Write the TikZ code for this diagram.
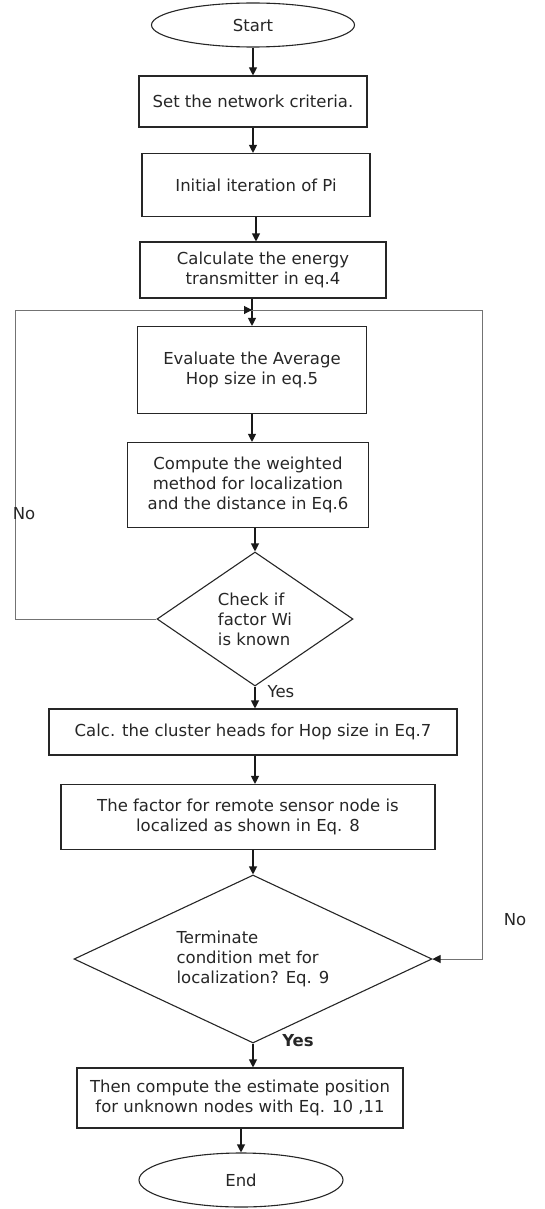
\documentclass[tikz,border=0pt]{standalone}
\usepackage{fontspec}
\setmainfont{DejaVu Sans}
\usetikzlibrary{shapes.geometric,arrows.meta,calc}
\begin{document}
\begin{tikzpicture}[x=1pt,y=-1pt,
  every node/.style={font=\fontsize{16.5}{20}\selectfont, text=black!85},
  proc/.style={draw=black!85, line width=1.1pt, rectangle, align=center, inner sep=2pt},
  term/.style={draw=black!85, line width=1.1pt, ellipse, inner sep=0pt},
  dec/.style={draw=black!85, line width=1.1pt, diamond, inner sep=0pt, align=left},
  arr/.style={draw=black!90, line width=1.1pt, -{Triangle[length=8pt,width=8pt]}},
  loopline/.style={draw=black!55, line width=0.9pt},
  lbl/.style={inner sep=0pt}]
\useasboundingbox (0,0) rectangle (545,1209);
\node[term, minimum width=203pt, minimum height=44pt] (start) at (253,25) {Start};
\node[proc, minimum width=228pt, minimum height=51pt] (set) at (253,101.5) {Set the network criteria.};
\node[proc, minimum width=228pt, minimum height=63pt] (init) at (256,185) {Initial iteration of Pi};
\node[proc, minimum width=246pt, minimum height=56pt] (calc) at (263,270) {Calculate the energy\\ transmitter in eq.4};
\node[proc, minimum width=229pt, minimum height=87pt] (eval) at (252,370) {Evaluate the Average\\ Hop size in eq.5};
\node[proc, minimum width=241pt, minimum height=85pt] (comp) at (248,485) {Compute the weighted\\ method for localization\\ and the distance in Eq.6};
\node[dec, aspect=1.46, minimum width=196pt, minimum height=134pt] (d1) at (255,619) {Check if\\ factor Wi\\ is known};
\node[proc, minimum width=408pt, minimum height=46pt] (clus) at (253,732) {Calc. the cluster heads for Hop size in Eq.7};
\node[proc, minimum width=374pt, minimum height=65pt] (fact) at (248,817) {The factor for remote sensor node is\\ localized as shown in Eq. 8};
\node[dec, aspect=2.13, minimum width=358pt, minimum height=168pt] (d2) at (253,959) {Terminate\\ condition met for\\ localization? Eq. 9};
\node[proc, minimum width=326pt, minimum height=60pt] (then) at (240,1098) {Then compute the estimate position\\ for unknown nodes with Eq. 10 ,11};
\node[term, minimum width=204pt, minimum height=54pt] (end) at (241,1180) {End};

\coordinate (jn) at (252,310);
\coordinate (lc) at (15,619);
\coordinate (rc) at (482,959);

\draw[arr] (start.south) -- (set.north);
\draw[arr] (set.south) -- (set.south |- init.north);
\draw[arr] (init.south) -- (init.south |- calc.north);
\draw[arr] (calc.south -| eval.north) -- (eval.north);
\draw[arr] (eval.south) -- (eval.south |- comp.north);
\draw[arr] (comp.south -| d1.north) -- (d1.north);
\draw[arr] (d1.south) -- (d1.south |- clus.north);
\draw[arr] (clus.south -| d1.south) -- (d1.south |- fact.north);
\draw[arr] (fact.south -| d2.north) -- (d2.north);
\draw[arr] (d2.south) -- (d2.south |- then.north);
\draw[arr] (then.south -| end.north) -- (end.north);

\draw[loopline] (d1.west) -- (lc) |- (jn);
\draw[arr] ($(jn)+(-6,0)$) -- (jn);
\draw[loopline] (jn) -| (rc) -- (d2.east);
\draw[arr] ($(d2.east)+(6,0)$) -- (d2.east);

\node[lbl] (no1) at (24,514) {No};
\node[lbl] (yes1) at (281,692) {Yes};
\node[lbl] (no2) at (515,920) {No};
\node[lbl, font=\fontsize{16.5}{20}\selectfont\bfseries] (yes2) at (298,1041) {Yes};
\end{tikzpicture}
\end{document}
